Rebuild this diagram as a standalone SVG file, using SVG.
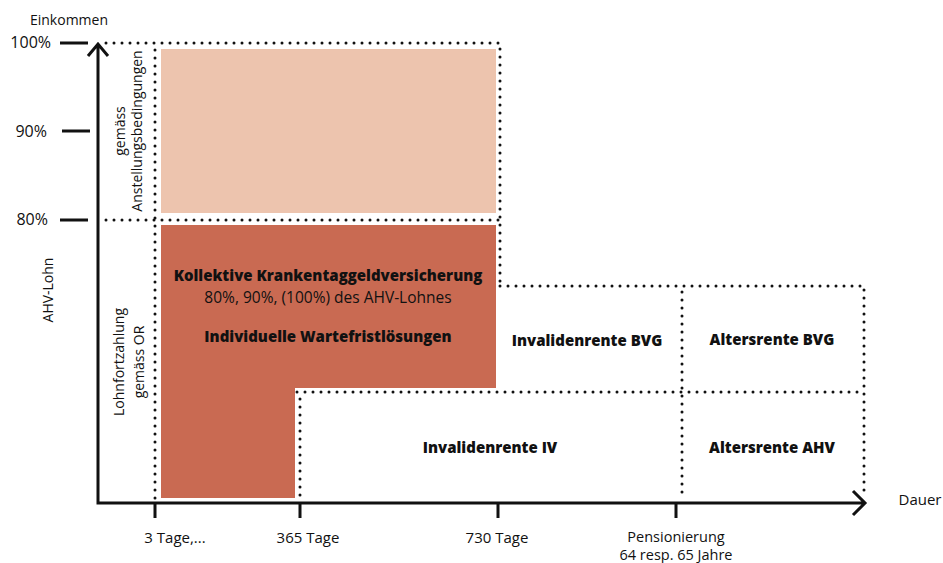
<svg xmlns="http://www.w3.org/2000/svg" width="943" height="563" viewBox="0 0 943 563">
<style>
text{font-family:"Open Sans","DejaVu Sans",sans-serif;fill:#111}
.lbl{font-size:15px}
.rot{font-size:14px}
.b{font-size:15px;font-weight:800}
.dot{fill:none;stroke:#111;stroke-width:3;stroke-linecap:round;stroke-dasharray:0 8}
.ax{fill:none;stroke:#111;stroke-width:3}
</style>
<rect width="943" height="563" fill="#fff"/>
<g id="light-area"><rect x="161" y="49" width="335" height="164" fill="#EDC4AE"/></g>
<g id="krankentaggeld">
<polygon points="161,225 496,225 496,388 295,388 295,498 161,498" fill="#C96A52"/>
<text class="b" x="328" y="281" text-anchor="middle">Kollektive Krankentaggeldversicherung</text>
<text class="lbl" x="328" y="303" text-anchor="middle" style="font-size:15.5px">80%, 90%, (100%) des AHV-Lohnes</text>
<text class="b" x="328" y="342" text-anchor="middle">Individuelle Wartefristlösungen</text>
</g>
<g id="connectors">
<path class="dot" d="M106,43H500V283M106,220H500M155,50V500M500,286H864V497M297,392H864M300,399V500M682,292V497"/>
<path class="ax" d="M98,44V503H865M88,56L98,44L108,56M853,491L865,503L853,515"/>
<path class="ax" d="M60,43H88M62,131H90M60,220H88M155,503V518M300,503V518M498,503V518M676,503V518"/>
</g>
<g id="inv-bvg"><text class="b" x="587" y="346" text-anchor="middle">Invalidenrente BVG</text></g>
<g id="alt-bvg"><text class="b" x="772" y="345" text-anchor="middle">Altersrente BVG</text></g>
<g id="inv-iv"><text class="b" x="490" y="453" text-anchor="middle">Invalidenrente IV</text></g>
<g id="alt-ahv"><text class="b" x="772" y="453" text-anchor="middle">Altersrente AHV</text></g>
<g id="labels">
<text class="lbl" x="69" y="25" text-anchor="middle" style="font-size:14px">Einkommen</text>
<text class="lbl" x="51" y="48" text-anchor="end" style="font-size:16px">100%</text>
<text class="lbl" x="47" y="137" text-anchor="end" style="font-size:16px">90%</text>
<text class="lbl" x="48" y="225" text-anchor="end" style="font-size:16px">80%</text>
<text class="rot" transform="translate(53,290) rotate(-90)" text-anchor="middle">AHV-Lohn</text>
<text class="rot" transform="translate(125,131) rotate(-90)" text-anchor="middle">gemäss</text>
<text class="rot" transform="translate(142,131) rotate(-90)" text-anchor="middle">Anstellungsbedingungen</text>
<text class="rot" transform="translate(124,362) rotate(-90)" text-anchor="middle">Lohnfortzahlung</text>
<text class="rot" transform="translate(144,362) rotate(-90)" text-anchor="middle">gemäss OR</text>
<text class="lbl" x="175" y="543" text-anchor="middle">3 Tage,...</text>
<text class="lbl" x="308" y="543" text-anchor="middle">365 Tage</text>
<text class="lbl" x="497" y="543" text-anchor="middle">730 Tage</text>
<text class="lbl" x="676" y="542" text-anchor="middle" style="font-size:14.5px">Pensionierung</text>
<text class="lbl" x="676" y="560" text-anchor="middle" style="font-size:14.5px">64 resp. 65 Jahre</text>
<text class="lbl" x="920" y="505" text-anchor="middle">Dauer</text>
</g>
</svg>
